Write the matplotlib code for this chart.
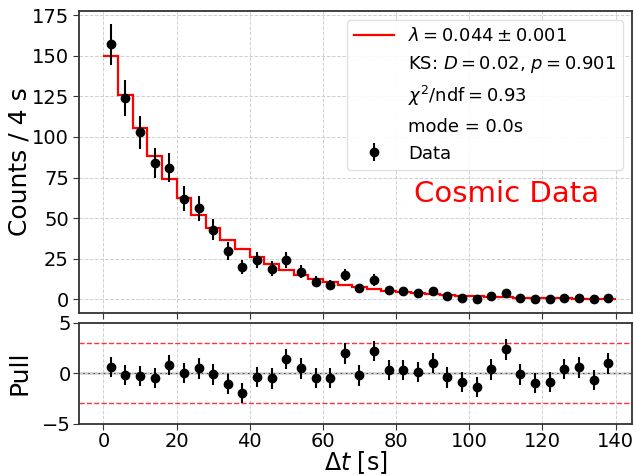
import matplotlib
matplotlib.use("Agg")
import matplotlib.pyplot as plt
from matplotlib.lines import Line2D
import numpy as np

# bin centres (4 s bins) and observed counts
bin_centers = [2, 6, 10, 14, 18, 22, 26, 30, 34, 38, 42, 46, 50, 54, 58, 62, 66, 70,
               74, 78, 82, 86, 90, 94, 98, 102, 106, 110, 114, 118, 122, 126, 130, 134, 138]
counts = [157, 124, 103, 84, 81, 62, 56, 43, 30, 20, 24, 19, 24, 17, 11, 9, 15, 7,
          12, 6, 5, 4, 5, 2, 1, 0, 2, 4, 1, 0, 0, 1, 1, 0, 1]

# fitted model per bin (red step line)
bin_edges = [0, 4, 8, 12, 16, 20, 24, 28, 32, 36, 40, 44, 48, 52, 56, 60, 64, 68, 72,
             76, 80, 84, 88, 92, 96, 100, 104, 108, 112, 116, 120, 124, 128, 132, 136, 140]
model = [150.0, 125.8, 105.5, 88.5, 74.2, 62.2, 52.2, 43.8, 36.7, 30.8, 25.8, 21.6,
         18.2, 15.2, 12.8, 10.7, 9.0, 7.5, 6.3, 5.3, 4.4, 3.7, 3.1, 2.6, 2.2, 1.8,
         1.6, 1.3, 1.1, 0.9, 0.8, 0.6, 0.5, 0.5, 0.4]

# pulls
pulls = [0.63, -0.2, -0.27, -0.46, 0.8, -0.03, 0.46, -0.13, -1.12, -1.95, -0.4, -0.53,
         1.39, 0.46, -0.46, -0.46, 1.95, -0.23, 2.2, 0.3, 0.3, 0.13, 1.02, -0.43,
         -0.86, -1.35, 0.36, 2.35, -0.13, -0.96, -0.92, 0.4, 0.56, -0.7, 0.96]

legend_labels = [r"$\lambda = 0.044 \pm 0.001$",
                 r"KS: $D = 0.02$, $p = 0.901$",
                 r"$\chi^2$/ndf$ = 0.93$",
                 "mode = 0.0s",
                 "Data"]

plt.rcParams['font.family'] = 'DejaVu Sans'
plt.rcParams['axes.edgecolor'] = '#333333'
plt.rcParams['axes.linewidth'] = 1.3

fig = plt.figure(figsize=(6.34, 4.75), dpi=100)
ax = fig.add_axes([0.125, 0.3417, 0.8718, 0.635])
axp = fig.add_axes([0.125, 0.1084, 0.8718, 0.2122], sharex=ax)

grid_kw = dict(color='#d0d0d0', linestyle='--', linewidth=0.7)

# top panel
count_err = np.sqrt(counts)
ax.stairs(model, bin_edges, baseline=None, color='red', linewidth=1.6, zorder=2)
ax.errorbar(bin_centers, counts, yerr=count_err, fmt='o', color='black',
            markersize=6, elinewidth=1.5, capsize=0, zorder=3)
ax.set_xlim(-6.6, 144.5)
ax.set_ylim(-8.2, 177.5)
ax.set_yticks([0, 25, 50, 75, 100, 125, 150, 175])
ax.set_ylabel("Counts / 4 s", fontsize=18)
ax.grid(True, **grid_kw)
ax.tick_params(axis='x', labelbottom=False)
ax.tick_params(direction='out', length=4, color='#333333', labelsize=14)

handles = [Line2D([], [], color='red', linewidth=1.6),
           Line2D([], [], linestyle='none'),
           Line2D([], [], linestyle='none'),
           Line2D([], [], linestyle='none')]
data_handle = ax.errorbar([], [], yerr=[], fmt='o', color='black', markersize=6,
                          elinewidth=1.5, capsize=0)
handles.append(data_handle)
ax.legend(handles, legend_labels, loc='upper right', fontsize=13,
          bbox_to_anchor=(0.984, 0.970), borderaxespad=0, framealpha=0.9,
          edgecolor='#dddddd', handlelength=2.2, labelspacing=0.5)

ax.text(0.773, 0.395, "Cosmic Data", color='red', fontsize=21,
        ha='center', va='center', transform=ax.transAxes)

# pull panel
axp.errorbar(bin_centers, pulls, yerr=1, fmt='o', color='black',
             markersize=6, elinewidth=1.5, capsize=0, zorder=3)
axp.axhline(0, color='#444444', linewidth=1.0, zorder=1)
axp.axhline(3, color='red', linestyle='--', linewidth=1.0, alpha=0.8)
axp.axhline(-3, color='red', linestyle='--', linewidth=1.0, alpha=0.8)
axp.set_ylim(-5, 5)
axp.set_yticks([-5, 0, 5])
axp.set_xticks([0, 20, 40, 60, 80, 100, 120, 140])
axp.set_ylabel("Pull", fontsize=18)
axp.set_xlabel(r"$\Delta t$ [s]", fontsize=17, labelpad=-1)
axp.grid(True, **grid_kw)
axp.tick_params(direction='out', length=4, pad=2, color='#333333', labelsize=14)

ax.yaxis.set_label_coords(-0.087, 0.5)
axp.yaxis.set_label_coords(-0.087, 0.5)

fig.savefig("out.png", dpi=100)
